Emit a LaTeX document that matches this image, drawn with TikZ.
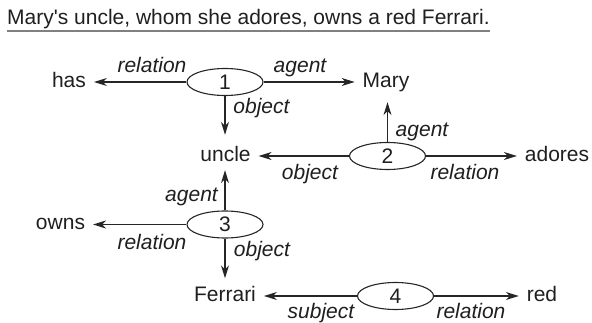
\documentclass[tikz,border=0pt]{standalone}
\usepackage{fontspec}
\setmainfont{Liberation Sans}[Ligatures=TeXOff]
\usetikzlibrary{arrows.meta,shapes.geometric}
\begin{document}
\begin{tikzpicture}[x=1pt,y=-1pt,
  every node/.style={font=\fontsize{21}{25}\selectfont, text=black!88},
  word/.style={inner sep=0pt, outer xsep=8pt, text height=16pt, text depth=5pt},
  rel/.style={ellipse, draw=black!85, line width=1.1pt, minimum width=76pt, minimum height=27pt, inner sep=0pt},
  lbl/.style={font=\fontsize{21}{25}\selectfont\itshape, inner sep=0pt, anchor=base},
  arr/.style={draw=black!85, line width=1.1pt, -{Stealth[length=13pt,width=8pt,inset=4pt]}},
  uline/.style={draw=black!50, line width=1.5pt},
]
\useasboundingbox (0,0) rectangle (592,323);
% title
\node[anchor=base west, inner sep=0pt] (title) at (7,25) {Mary's uncle, whom she adores, owns a red Ferrari.};
\draw[uline] ([yshift=-6pt]title.base west) -- ([yshift=-6pt]title.base east);
% words
\node[word] (has) at (69,82) {has};
\node[word] (mary) at (386,82) {Mary};
\node[word] (uncle) at (225.5,156) {uncle};
\node[word] (adores) at (557,156) {adores};
\node[word] (owns) at (60.5,224.5) {owns};
\node[word] (ferrari) at (225,296) {Ferrari};
\node[word] (red) at (542,296) {red};
% relations
\node[rel] (r1) at (225,82) {1};
\node[rel] (r2) at (387.5,156) {2};
\node[rel] (r3) at (225,224.5) {3};
\node[rel] (r4) at (395.5,296) {4};
% connectors
\draw[arr] (r1.west) -- (has.east);
\draw[arr] (r1.east) -- (mary.west);
\draw[arr, shorten >=10.5pt] (r1.south) -- (r1.south |- uncle.north);
\draw[arr, shorten >=9.5pt] (r2.north) -- (r2.north |- mary.south);
\draw[arr] (r2.west) -- (uncle.east);
\draw[arr] (r2.east) -- (adores.west);
\draw[arr, shorten >=3.5pt] (r3.north) -- (r3.north |- uncle.south);
\draw[arr] (r3.west) -- (owns.east);
\draw[arr, shorten >=7pt] (r3.south) -- (r3.south |- ferrari.north);
\draw[arr] (r4.west) -- (ferrari.east);
\draw[arr] (r4.east) -- (red.west);
% labels
\node[lbl] (l1r) at (152,73) {relation};
\node[lbl] (l1a) at (300,73) {agent};
\node[lbl] (l1o) at (261.5,114) {object};
\node[lbl] (l2a) at (422,137) {agent};
\node[lbl] (l2o) at (310,180) {object};
\node[lbl] (l2r) at (465,180) {relation};
\node[lbl] (l3a) at (191.5,202) {agent};
\node[lbl] (l3r) at (152,250) {relation};
\node[lbl] (l3o) at (262,257) {object};
\node[lbl] (l4s) at (321,319) {subject};
\node[lbl] (l4r) at (471,319) {relation};
\end{tikzpicture}
\end{document}
